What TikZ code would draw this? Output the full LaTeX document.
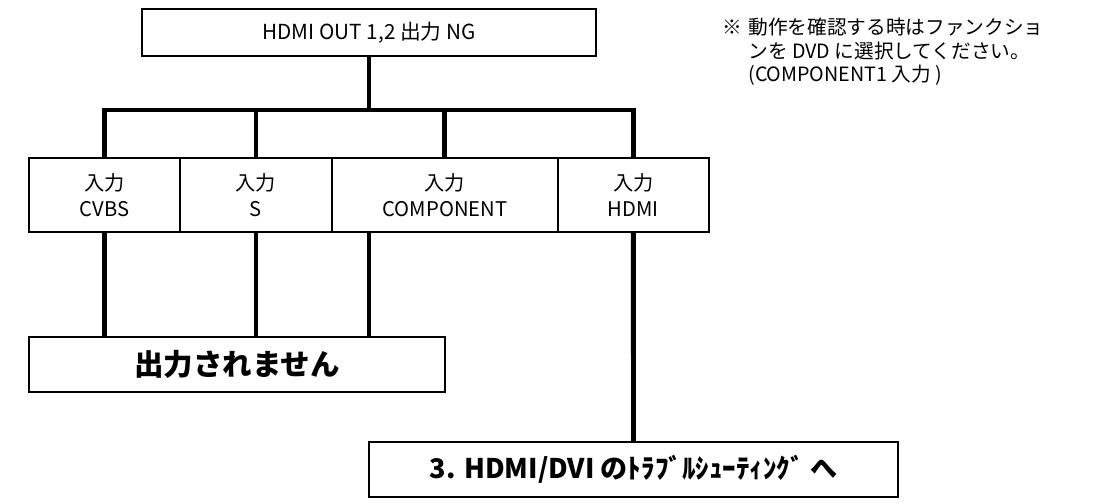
\documentclass[tikz,border=0pt]{standalone}
\usepackage{fontspec}
\setmainfont{Noto Sans CJK JP}
\usetikzlibrary{positioning}

\tikzset{
  box/.style={draw,line width=1.1pt,inner sep=0pt,outer sep=0pt,align=center,font=\fontsize{11.5}{14.5}\selectfont},
  inbox/.style={box,minimum height=1.48cm},
  endbox/.style={box,minimum height=1.10cm,font=\bfseries\fontsize{16.8}{18}\selectfont},
  bus/.style={line width=2.8pt,line join=miter}
}

\begin{document}
\begin{tikzpicture}[x=0.02cm,y=-0.02cm]
\useasboundingbox (0,0) rectangle (1107,504);
% top
\node[box,minimum width=9.08cm,minimum height=0.94cm,font=\fontsize{11.8}{14}\selectfont] (top) at (369,32.5) {HDMI OUT 1,2 出力 NG};
% inputs
\node[inbox,minimum width=3.02cm] (cvbs) at (104.5,195) {入力\\CVBS};
\node[inbox,minimum width=3.04cm,right=0pt of cvbs] (svid) {入力\\S};
\node[inbox,minimum width=4.52cm,right=0pt of svid] (comp) {入力\\COMPONENT};
\node[inbox,minimum width=3.02cm,right=0pt of comp] (hdmi) {入力\\HDMI};
% results
\node[endbox,minimum width=8.32cm] (none) at (237,364.5) {出力されません};
\node[endbox,minimum width=10.58cm,font=\bfseries\fontsize{15.4}{18}\selectfont] (trbl) at (633.5,469.5) {3. HDMI/DVI のﾄﾗﾌﾞﾙｼｭｰﾃｨﾝｸﾞ へ};
% note
\node[anchor=north west,inner sep=0pt,font=\fontsize{11.2}{13.2}\selectfont] (note) at (722,18)
  {\begin{tabular}{@{}l@{}l@{}}\makebox[0.52cm][l]{※}&動作を確認する時はファンクショ\\&ンを DVD に選択してください。\\&(COMPONENT1 入力 )\end{tabular}};

% bus
\draw[bus] (top.south) -- ++(0,54) coordinate (bus);
\draw[bus] (cvbs.north) -- (cvbs.north |- bus) -- (hdmi.north |- bus) -- (hdmi.north);
\draw[bus] (svid.north) -- (svid.north |- bus);
\draw[bus] (comp.north) -- (comp.north |- bus);
% down
\draw[bus] (cvbs.south) -- (cvbs.south |- none.north);
\draw[bus] (svid.south) -- (svid.south |- none.north);
\draw[bus] (comp.south -| top.south) -- (none.north -| top.south);
\draw[bus] (hdmi.south) -- (trbl.north);
\end{tikzpicture}
\end{document}
